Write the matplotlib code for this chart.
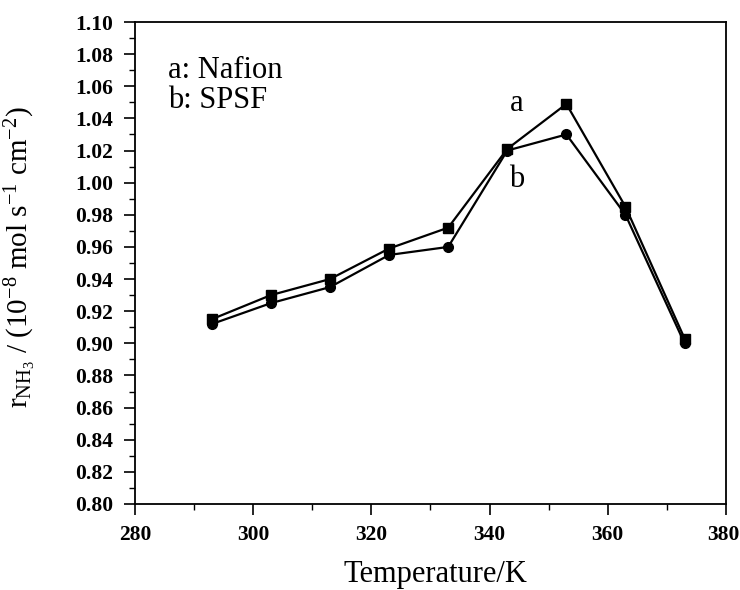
import numpy as np
import matplotlib.pyplot as plt
from matplotlib.ticker import MultipleLocator, FuncFormatter

plt.rcParams['font.family'] = 'Liberation Serif'
plt.rcParams['mathtext.fontset'] = 'custom'
plt.rcParams['mathtext.rm'] = 'Liberation Serif'
plt.rcParams['mathtext.it'] = 'Liberation Serif:italic'

temperature = [293, 303, 313, 323, 333, 343, 353, 363, 373]
nafion = [0.915, 0.930, 0.940, 0.959, 0.972, 1.021, 1.049, 0.985, 0.903]
spsf = [0.912, 0.925, 0.935, 0.955, 0.960, 1.020, 1.030, 0.980, 0.900]

fig = plt.figure(figsize=(7.4, 5.9), dpi=100)
ax = fig.add_axes([0.1824, 0.1458, 0.7986, 0.8169])

ax.plot(temperature, nafion, color='black', lw=1.6, marker='s', ms=7)
ax.plot(temperature, spsf, color='black', lw=1.6, marker='o', ms=7)

ax.set_xlim(280, 380)
ax.set_ylim(0.80, 1.10)
ax.xaxis.set_major_locator(MultipleLocator(20))
ax.xaxis.set_minor_locator(MultipleLocator(10))
ax.yaxis.set_major_locator(MultipleLocator(0.02))
ax.yaxis.set_minor_locator(MultipleLocator(0.01))
ax.yaxis.set_major_formatter(plt.FormatStrFormatter('%.2f'))
# last x label is drawn by hand below so it stays inside the picture
ax.xaxis.set_major_formatter(FuncFormatter(lambda v, p: '' if v >= 379 else '%d' % v))

ax.tick_params(which='major', direction='out', length=8, width=1.2, labelsize=15.5)
ax.tick_params(which='minor', direction='out', length=4, width=1.0)
ax.tick_params(axis='x', pad=7)
ax.tick_params(axis='y', pad=8)
for lab in ax.get_xticklabels() + ax.get_yticklabels():
    lab.set_fontweight('bold')
for s in ax.spines.values():
    s.set_linewidth(1.3)

ax.annotate('380', xy=(380, 0), xycoords=('data', 'axes fraction'),
            xytext=(10, -15), textcoords='offset points', ha='right', va='top',
            fontsize=15.5, fontweight='bold')

ax.text(285.6, 1.070, 'a: Nafion', fontsize=22, va='center')
ax.text(285.6, 1.051, 'b: SPSF', fontsize=22, va='center')
ax.text(344.6, 1.049, 'a', fontsize=22, ha='center', va='center')
ax.text(344.6, 1.002, 'b', fontsize=22, ha='center', va='center')

ax.set_xlabel('Temperature/K', fontsize=22)
ax.xaxis.set_label_coords(0.508, -0.117)
ax.set_ylabel(r'$\mathregular{r_{NH_3}}$ / (10$^{-8}$ mol s$^{-1}$ cm$^{-2}$)', fontsize=21)
ax.yaxis.set_label_coords(-0.164, 0.512)

fig.savefig('out.png', dpi=100)
